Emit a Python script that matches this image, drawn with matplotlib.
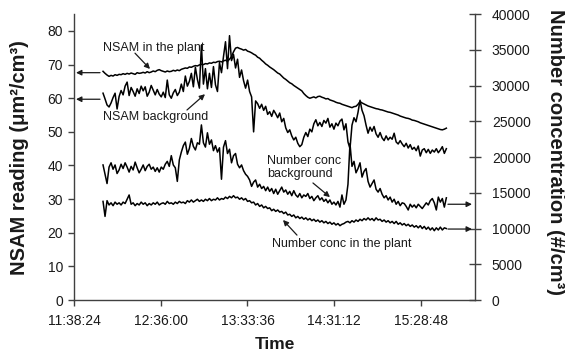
import numpy as np
import matplotlib
matplotlib.use("Agg")
import matplotlib.pyplot as plt
from matplotlib.ticker import FixedLocator, FuncFormatter

plt.rcParams['font.family'] = ['Liberation Sans', 'DejaVu Sans']

# Sampling: one reading every 80 s starting at 11:57:40
start_time = "11:57:40"
step_seconds = 80

# NSAM reading in the plant (um2/cm3)
nsam_plant = [
    68.0, 67.4, 66.9, 66.5, 66.8, 66.6, 67.0, 66.8, 67.1, 67.0,
    67.3, 67.1, 67.4, 67.2, 67.5, 67.3, 67.1, 67.6, 67.4, 67.5,
    67.7, 67.5, 67.9, 67.6, 67.8, 68.1, 67.9, 68.3, 68.5, 68.2,
    68.0, 67.8, 68.1, 67.9, 68.0, 68.3, 68.1, 68.4, 68.2, 68.6,
    68.8, 69.0, 68.9, 69.3, 69.2, 69.5, 69.7, 69.6, 69.9, 70.1,
    70.0, 70.3, 70.2, 70.5, 70.4, 70.7, 70.6, 70.9, 71.0, 70.8,
    71.1, 71.3, 71.0, 71.6, 72.4, 73.8, 74.9, 75.1, 74.8, 74.6,
    74.3, 74.5, 74.0, 73.8, 73.5, 73.1, 72.8, 72.2, 71.9, 71.3,
    70.8, 70.2, 69.8, 69.3, 68.9, 68.5, 68.0, 67.5, 67.2, 66.6,
    66.0, 65.6, 65.1, 64.6, 64.3, 63.8, 63.4, 63.0, 62.6, 62.2,
    61.4, 60.8, 60.3, 60.0, 60.2, 60.4, 60.1, 60.5, 60.6, 60.3,
    60.1, 59.8, 59.9, 59.5, 59.3, 59.1, 58.8, 58.6, 58.5, 58.2,
    58.0, 57.8, 57.6, 57.4, 57.2, 57.5, 57.6, 58.2, 59.0, 58.6,
    58.3, 58.0, 57.7, 57.5, 57.3, 57.1, 56.9, 56.8, 56.6, 56.5,
    56.3, 56.1, 55.9, 55.8, 55.6, 55.4, 55.2, 55.0, 54.7, 54.5,
    54.3, 54.1, 54.0, 53.8, 53.5, 53.4, 53.2, 53.0, 52.7, 52.5,
    52.3, 52.1, 51.9, 51.7, 51.5, 51.3, 51.1, 50.9, 50.7, 50.6,
    50.8, 51.1,
]

# NSAM reading, background (um2/cm3)
nsam_background = [
    61.5, 59.8, 58.0, 57.4, 58.6, 60.2, 61.5, 56.8, 60.5, 62.3,
    61.0, 63.6, 64.8, 60.8, 63.2, 62.0, 60.6, 62.8, 61.4, 63.6,
    62.2, 63.4, 60.6, 61.8, 63.8, 62.4, 61.0, 62.6, 61.2, 60.4,
    61.8, 60.2, 65.4, 61.0, 60.0, 61.6, 62.6, 60.8, 61.8, 64.2,
    62.0, 66.6, 63.6, 65.0, 67.4, 63.4, 69.2, 65.6, 63.0, 75.8,
    64.2, 68.8, 62.8, 67.4, 63.2, 69.4, 64.0, 62.0, 70.6, 67.6,
    72.4, 76.8, 68.8, 78.6, 71.2, 73.0, 69.0, 71.6, 66.2, 68.4,
    65.2, 63.0, 65.4, 62.0, 60.4, 50.0, 59.2, 58.4, 57.0, 58.2,
    56.4, 57.6, 55.2, 56.0, 54.6, 56.4, 55.4, 54.2, 55.6, 53.0,
    54.0, 51.2, 49.8, 50.6, 48.8, 47.6, 48.4, 46.6, 45.6, 46.2,
    48.4, 49.8, 48.6, 50.8, 50.0, 52.4, 53.6, 51.8, 52.8, 51.6,
    53.4, 52.6, 54.0, 51.4, 52.4, 50.8, 52.6, 51.8, 53.2, 53.8,
    50.6, 52.4, 47.0, 45.0, 52.0, 54.2, 53.0, 55.8, 59.4, 56.4,
    54.8, 52.0, 49.6, 51.4, 50.2, 51.6, 49.4, 48.4, 49.8, 48.2,
    47.4, 48.8, 47.6, 48.4, 47.8, 49.6, 47.0, 46.4, 47.4, 46.4,
    45.6, 46.6, 45.2, 46.2, 44.8, 45.4, 44.4, 45.8, 42.8, 44.6,
    45.0, 43.8, 44.8, 43.6, 44.6, 44.0, 45.0, 43.8, 44.6, 45.6,
    43.6, 45.0,
]

# Number concentration, background (#/cm3)
number_background = [
    18900, 17600, 16300, 18600, 19200, 18300, 18900, 17700, 18200, 19000,
    18400, 19200, 18600, 17900, 18700, 18200, 19300, 18500, 17800, 18300,
    18900, 18100, 18700, 19000, 18300, 18600, 18000, 18500, 17900, 18600,
    18300, 19000, 19400, 18700, 20200, 18900, 18500, 16600, 19600, 20700,
    21600, 22100, 20400, 21200, 22600, 21500, 21000, 22000, 21800, 24500,
    22000, 21400, 23400, 21800, 22400, 20900, 21600, 20700, 21300, 16900,
    21400, 22300, 20500, 21100, 19200, 20200, 20500, 19000, 18500, 18900,
    18100, 17600, 17300, 16800, 15900, 16500, 16800, 15800, 16200, 15600,
    15900, 15300, 15800, 15200, 15600, 14900, 15500, 14800, 15300, 15800,
    15100, 15400, 14800, 15200, 14600, 15300, 14700, 14400, 14900, 14300,
    14700, 14500, 14900, 14200, 14500, 13900, 14300, 14600, 14000, 14300,
    13800, 14100, 13600, 14000, 13400, 13700, 13300, 13800, 13000, 14700,
    13400, 14000, 16200, 21900, 18700, 19400, 17800, 18400, 19200, 17200,
    18000, 18400, 16600, 15800, 16300, 16800, 15500, 15100, 15600, 14800,
    14300, 14600, 14000, 14400, 13700, 14100, 13400, 13800, 13200, 13600,
    13500, 13100, 12600, 13400, 13000, 13300, 12900, 13400, 13100, 12800,
    13200, 13600, 13300, 13900, 14200, 13600, 12600, 14400, 13700, 14200,
    13000, 14300,
]

# Number concentration in the plant (#/cm3)
number_plant = [
    13800, 11700, 13900, 13300, 13600, 13200, 13700, 13400, 13600, 13300,
    13700, 13500, 14100, 14700, 13400, 13600, 13200, 13500, 13300, 13700,
    13400, 13600, 13200, 13500, 13300, 13600, 13400, 13700, 13300, 13500,
    13600, 13400, 13800, 13500, 13600, 13400, 13700, 13500, 13800, 13600,
    13700, 13500, 13900, 13700, 14000, 13700, 13900, 14100, 13800, 14000,
    13800, 14100, 13900, 14200, 13900, 14100, 14000, 14300, 14000, 14200,
    14100, 14400, 14200, 14500, 14300, 14600, 14300, 14400, 14100, 14300,
    14000, 14200, 13800, 13900, 13600, 13700, 13300, 13500, 13100, 13300,
    12900, 13100, 12800, 12900, 12500, 12700, 12400, 12600, 12300, 12400,
    12100, 12300, 11900, 12000, 11700, 11900, 11500, 11700, 11400, 11600,
    11300, 11500, 11200, 11400, 11100, 11300, 11000, 11200, 10900, 11100,
    10800, 11000, 10700, 10900, 10600, 10800, 10500, 10700, 10400, 10600,
    10700, 10900, 11000, 10800, 11100, 10900, 11200, 11000, 11300, 11100,
    11400, 11200, 11500, 11200, 11400, 11100, 11500, 11200, 11300, 11000,
    11200, 10900, 11100, 10800, 11000, 10700, 11000, 10600, 10800, 10500,
    10700, 10400, 10600, 10300, 10500, 10200, 10400, 10100, 10400, 10000,
    10300, 9900, 10200, 9800, 10100, 9700, 10100, 9800, 10200, 9800,
    10100, 10000,
]

# Time axis ticks (day fractions, major unit 0.04 day)
x_tick_labels = ["11:38:24", "12:36:00", "13:33:36", "14:31:12", "15:28:48"]
left_ticks = [0, 10, 20, 30, 40, 50, 60, 70, 80]
right_ticks = [0, 5000, 10000, 15000, 20000, 25000, 30000, 35000, 40000]


def day_fraction(hms):
    h, m, s = (int(p) for p in hms.split(":"))
    return (h * 3600 + m * 60 + s) / 86400.0


def fmt_time(x, pos=None):
    total = int(round(x * 86400))
    return f"{total // 3600:02d}:{(total % 3600) // 60:02d}:{total % 60:02d}"


n = len(nsam_plant)
t = day_fraction(start_time) + np.arange(n) * step_seconds / 86400.0

ink = "#1a1a1a"
axis_col = "#404040"

fig = plt.figure(figsize=(5.65, 3.54), dpi=100)
ax = fig.add_axes([0.131, 0.1525, 0.710, 0.8075])
ax2 = ax.twinx()

ax.plot(t, nsam_plant, color="black", lw=1.1)
ax.plot(t, nsam_background, color="black", lw=1.1)
ax2.plot(t, number_background, color="black", lw=1.1)
ax2.plot(t, number_plant, color="black", lw=1.1)

x_ticks = [day_fraction(s) for s in x_tick_labels]
ax.set_xlim(x_ticks[0], 0.67)
ax.xaxis.set_major_locator(FixedLocator(x_ticks))
ax.xaxis.set_major_formatter(FuncFormatter(fmt_time))
ax.set_ylim(0, 85)
ax.set_yticks(left_ticks)
ax2.set_ylim(0, 40000)
ax2.set_yticks(right_ticks)

for a in (ax, ax2):
    a.spines["top"].set_visible(False)
    for s in a.spines.values():
        s.set_color(axis_col)
        s.set_linewidth(1.0)
ax.spines["right"].set_visible(False)
ax2.spines["left"].set_visible(False)
ax2.spines["bottom"].set_visible(False)

ax.tick_params(axis="both", direction="out", length=4, width=1.0,
               color=axis_col, labelsize=10, labelcolor=ink, pad=4)
ax.tick_params(axis="x", pad=6)
ax2.tick_params(axis="y", direction="inout", length=8, width=1.0,
                color=axis_col, labelsize=10, labelcolor=ink, pad=8)

ax.set_xlabel("Time", fontsize=12.5, fontweight="bold", color=ink, va="top")
ax.set_ylabel("NSAM reading (\u03bcm\u00b2/cm\u00b3)",
              fontsize=14.5, fontweight="bold", color=ink, va="bottom")
ax2.set_ylabel("Number concentration (#/cm\u00b3)",
               fontsize=14.5, fontweight="bold", color=ink, rotation=270,
               va="bottom")
ax.xaxis.set_label_coords(0.5, -0.128)
ax.yaxis.set_label_coords(-0.112, 0.498)
ax2.yaxis.set_label_coords(1.176, 0.519)

arrow = dict(arrowstyle="-|>", color=ink, lw=0.9, mutation_scale=8,
             shrinkA=0, shrinkB=0)
txt = dict(fontsize=9, color=ink, va="center")

# Series labels with pointers
ax.text(day_fraction("11:57:40"), 74.9, "NSAM in the plant", ha="left", **txt)
ax.annotate("", xy=(day_fraction("12:28:52"), 68.7),
            xytext=(day_fraction("12:18:54"), 73.4), arrowprops=arrow)

ax.text(day_fraction("11:57:40"), 54.4, "NSAM background", ha="left", **txt)
ax.annotate("", xy=(day_fraction("13:05:23"), 61.2),
            xytext=(day_fraction("12:53:25"), 56.5), arrowprops=arrow)

ax.text(day_fraction("13:46:33"), 39.4, "Number conc\nbackground",
        ha="left", linespacing=1.15, **txt)
ax.annotate("", xy=(day_fraction("14:28:22"), 30.6),
            xytext=(day_fraction("14:17:05"), 34.8), arrowprops=arrow)

ax.text(day_fraction("13:49:52"), 16.6, "Number conc in the plant",
        ha="left", **txt)
ax.annotate("", xy=(day_fraction("13:57:11"), 23.8),
            xytext=(day_fraction("14:06:28"), 19.3), arrowprops=arrow)

# Axis pointers
for yv in (67.6, 59.7):
    ax.annotate("", xy=(day_fraction("11:39:44"), yv),
                xytext=(day_fraction("11:55:40"), yv),
                arrowprops=arrow, annotation_clip=False)
for yv in (13400, 9930):
    ax2.annotate("", xy=(day_fraction("16:02:40"), yv),
                 xytext=(day_fraction("15:46:43"), yv),
                 arrowprops=arrow, annotation_clip=False)

fig.savefig("out.png", dpi=100)
